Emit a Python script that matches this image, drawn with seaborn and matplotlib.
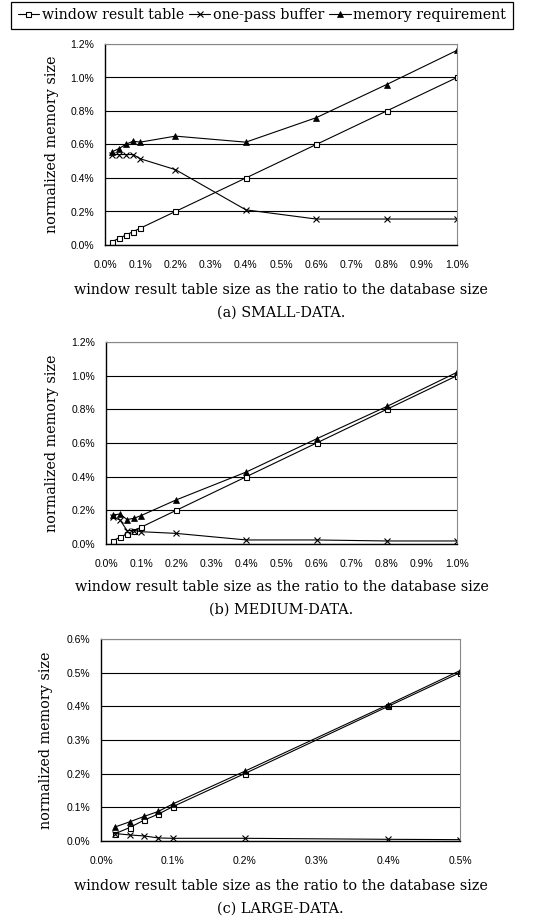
import matplotlib
matplotlib.use("Agg")
import matplotlib.pyplot as plt
import seaborn as sns
from matplotlib.ticker import FuncFormatter, MultipleLocator

# x values (percent of database size)
x_full = [0.02, 0.04, 0.06, 0.08, 0.1, 0.2, 0.4, 0.6, 0.8, 1.0]
x_large = [0.02, 0.04, 0.06, 0.08, 0.1, 0.2, 0.4, 0.5]

# (a) SMALL-DATA
small_window = [0.02, 0.04, 0.06, 0.08, 0.1, 0.2, 0.4, 0.6, 0.8, 1.0]
small_onepass = [0.54, 0.54, 0.54, 0.54, 0.515, 0.45, 0.21, 0.155, 0.155, 0.155]
small_memory = [0.556, 0.576, 0.602, 0.62, 0.614, 0.65, 0.614, 0.76, 0.958, 1.162]

# (b) MEDIUM-DATA
medium_window = [0.02, 0.04, 0.06, 0.08, 0.1, 0.2, 0.4, 0.6, 0.8, 1.0]
medium_onepass = [0.158, 0.143, 0.08, 0.08, 0.073, 0.063, 0.024, 0.024, 0.018, 0.018]
medium_memory = [0.173, 0.178, 0.145, 0.153, 0.169, 0.262, 0.428, 0.625, 0.817, 1.02]

# (c) LARGE-DATA
large_window = [0.022, 0.04, 0.062, 0.08, 0.102, 0.2, 0.4, 0.5]
large_onepass = [0.022, 0.018, 0.015, 0.009, 0.008, 0.008, 0.005, 0.004]
large_memory = [0.042, 0.057, 0.073, 0.088, 0.11, 0.207, 0.405, 0.506]

series_names = ["window result table", "one-pass buffer", "memory requirement"]
captions = ["(a) SMALL-DATA.", "(b) MEDIUM-DATA.", "(c) LARGE-DATA."]
x_label = "window result table size as the ratio to the database size"
y_label = "normalized memory size"

sns.set_theme(style="white")
plt.rcParams["font.family"] = ["DejaVu Serif"]
plt.rcParams["text.color"] = "black"
plt.rcParams["xtick.color"] = "black"
plt.rcParams["ytick.color"] = "black"
TEXT_SIZE = 10.4

marker_styles = [
    dict(marker="s", markersize=3.6, markerfacecolor="white", markeredgecolor="black", markeredgewidth=0.8),
    dict(marker="x", markersize=3.8, markeredgecolor="black", markeredgewidth=0.8),
    dict(marker="^", markersize=4.2, markerfacecolor="black", markeredgecolor="black", markeredgewidth=0.5),
]

fig = plt.figure(figsize=(5.52, 9.21), dpi=100)
W, H = 552, 921


def add_axes_px(left, top, right, bottom):
    return fig.add_axes([left / W, 1 - bottom / H, (right - left) / W, (bottom - top) / H])


# axes box in pixels, x-label / caption centre rows, y-label centre column
panels = [
    ((105, 44, 457, 245), x_full, [small_window, small_onepass, small_memory], 1.2, 0.2, 1.0, 290, 313, 52),
    ((106, 342, 457, 544), x_full, [medium_window, medium_onepass, medium_memory], 1.2, 0.2, 1.0, 587, 610, 52),
    ((101, 639, 460, 841), x_large, [large_window, large_onepass, large_memory], 0.6, 0.1, 0.5, 886, 909, 46),
]

pct = FuncFormatter(lambda v, pos: f"{v:.1f}%")
axes = []

for i, (box, xs, ys_list, ymax, ystep, xmax, xl_y, cap_y, yl_x) in enumerate(panels):
    ax = add_axes_px(*box)
    axes.append(ax)
    for name, ys, ms in zip(series_names, ys_list, marker_styles):
        sns.lineplot(x=xs, y=ys, ax=ax, color="black", linewidth=0.8, label=name, **ms)
    if ax.get_legend() is not None:
        ax.get_legend().remove()

    ax.set_xlim(0, xmax)
    ax.set_ylim(0, ymax)
    ax.yaxis.set_major_locator(MultipleLocator(ystep))
    ax.xaxis.set_major_locator(MultipleLocator(0.1))
    ax.xaxis.set_major_formatter(pct)
    ax.yaxis.set_major_formatter(pct)
    ax.grid(axis="y", color="black", linewidth=0.8)
    ax.grid(axis="x", visible=False)
    ax.set_axisbelow(True)

    for side in ["top", "right"]:
        ax.spines[side].set_color("#888888")
        ax.spines[side].set_linewidth(0.8)
    for side in ["left", "bottom"]:
        ax.spines[side].set_color("black")
        ax.spines[side].set_linewidth(1.0)

    ax.tick_params(axis="x", direction="in", length=4, width=0.8, color="black", pad=10.5,
                   labelsize=7.5, labelfontfamily="Liberation Sans", labelcolor="black")
    ax.tick_params(axis="y", length=0, pad=8, labelsize=7.5, labelfontfamily="Liberation Sans",
                   labelcolor="black")

    cx = (box[0] + box[2]) / 2 / W
    cy = (box[1] + box[3]) / 2
    fig.text(cx, 1 - xl_y / H, x_label, ha="center", va="center", fontsize=TEXT_SIZE)
    fig.text(cx, 1 - cap_y / H, captions[i], ha="center", va="center", fontsize=TEXT_SIZE)
    fig.text(yl_x / W, 1 - cy / H, y_label, ha="center", va="center", rotation=90, fontsize=TEXT_SIZE)

handles, labels = axes[0].get_legend_handles_labels()
leg = fig.legend(handles, labels, loc="upper center", bbox_to_anchor=(0.4746, 0.998), ncol=3,
                 frameon=True, fancybox=False, edgecolor="black", framealpha=1,
                 fontsize=10.2, handlelength=1.5, handletextpad=0.2, columnspacing=0.35,
                 borderpad=0.45, borderaxespad=0)
leg.get_frame().set_linewidth(0.9)

fig.savefig("out.png", dpi=100)
